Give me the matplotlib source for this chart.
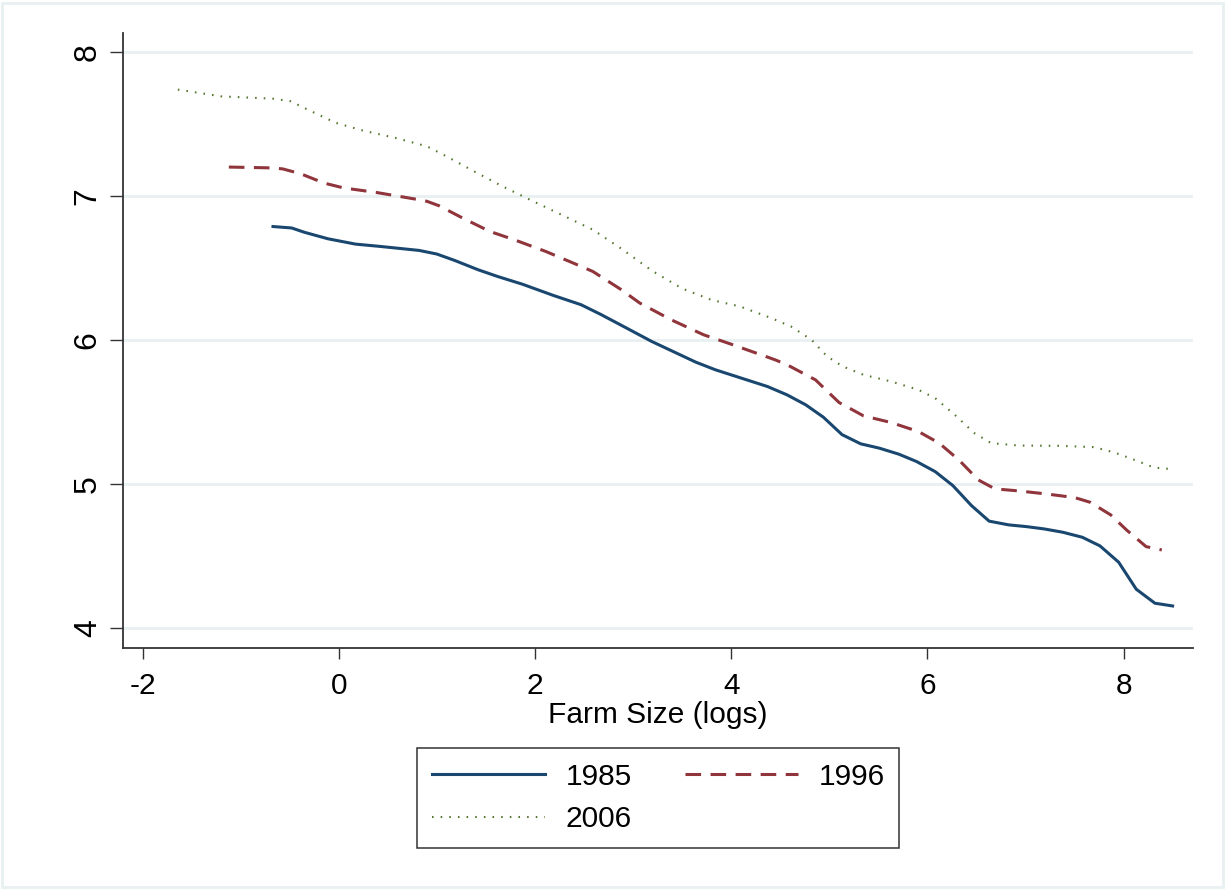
import matplotlib
matplotlib.use("Agg")
import matplotlib.pyplot as plt
from matplotlib.patches import Rectangle

plt.rcParams['font.family'] = ['Liberation Sans', 'DejaVu Sans']

# ---- data ----
x_1985 = [-0.67, -0.48, -0.35, -0.11, 0.17, 0.42, 0.82, 1.00, 1.18, 1.42, 1.62, 1.87,
          2.19, 2.47, 2.67, 2.87, 3.19, 3.64, 3.84, 4.37, 4.57, 4.76, 4.94, 5.13, 5.32,
          5.51, 5.71, 5.89, 6.08, 6.26, 6.45, 6.63, 6.83, 7.01, 7.19, 7.38, 7.58, 7.76,
          7.95, 8.13, 8.32, 8.50]
y_1985 = [6.79, 6.78, 6.75, 6.705, 6.668, 6.652, 6.624, 6.599, 6.555, 6.49, 6.443, 6.39,
          6.311, 6.247, 6.18, 6.108, 5.992, 5.848, 5.795, 5.679, 5.621, 5.552, 5.466, 5.345,
          5.281, 5.251, 5.209, 5.158, 5.088, 4.991, 4.852, 4.744, 4.718, 4.706, 4.69, 4.667,
          4.632, 4.572, 4.459, 4.271, 4.174, 4.155]

x_1996 = [-1.12, -0.67, -0.57, -0.39, -0.15, 0.05, 0.38, 0.82, 0.90, 1.02, 1.26, 1.54,
          1.79, 2.11, 2.35, 2.59, 2.87, 3.07, 3.39, 3.72, 4.00, 4.45, 4.57, 4.86, 5.10,
          5.35, 5.63, 5.91, 6.12, 6.32, 6.52, 6.69, 6.93, 7.21, 7.50, 7.66, 7.87, 8.03,
          8.23, 8.39]
y_1996 = [7.203, 7.197, 7.19, 7.157, 7.092, 7.058, 7.027, 6.976, 6.965, 6.935, 6.85, 6.756,
          6.698, 6.617, 6.548, 6.478, 6.356, 6.258, 6.142, 6.038, 5.973, 5.864, 5.83, 5.725,
          5.568, 5.475, 5.429, 5.366, 5.286, 5.17, 5.03, 4.968, 4.954, 4.933, 4.908, 4.875,
          4.787, 4.683, 4.567, 4.544]

x_2006 = [-1.64, -1.20, -0.67, -0.49, -0.31, -0.03, 0.25, 0.58, 0.90, 1.10, 1.38, 1.67,
          1.95, 2.27, 2.59, 2.87, 3.20, 3.50, 3.80, 4.09, 4.41, 4.61, 4.82, 4.98, 5.14,
          5.35, 5.63, 5.91, 6.08, 6.28, 6.48, 6.65, 6.93, 7.34, 7.70, 7.91, 8.11, 8.31,
          8.46]
y_2006 = [7.741, 7.694, 7.678, 7.66, 7.60, 7.51, 7.456, 7.405, 7.347, 7.277, 7.173, 7.069,
          6.976, 6.872, 6.768, 6.641, 6.48, 6.36, 6.28, 6.235, 6.154, 6.096, 6.003, 5.887,
          5.818, 5.76, 5.714, 5.656, 5.598, 5.482, 5.355, 5.286, 5.269, 5.267, 5.258, 5.22,
          5.17, 5.116, 5.107]

series_labels = ['1985', '1996', '2006']
x_ticks = [-2, 0, 2, 4, 6, 8]
y_ticks = [4, 5, 6, 7, 8]
x_label = 'Farm Size (logs)'

# ---- figure ----
W, H = 1225, 890
fig = plt.figure(figsize=(W / 100, H / 100), dpi=100)
fig.patch.set_facecolor('white')
fig.patches.append(Rectangle((0.002, 0.003), 0.996, 0.994, transform=fig.transFigure,
                             fill=False, edgecolor='#e8f0f2', linewidth=2.0))

ax = fig.add_axes([123 / W, 1 - 648 / H, (1193 - 123) / W, (648 - 33) / H])
ax.set_facecolor('white')

navy = '#1a476f'
maroon = '#90353b'
green = '#55752f'

l1, = ax.plot(x_1985, y_1985, color=navy, lw=2.2, solid_joinstyle='round', label=series_labels[0], zorder=3)
l2, = ax.plot(x_1996, y_1996, color=maroon, lw=2.2, dashes=(5.1, 3.1), label=series_labels[1], zorder=3)
l3, = ax.plot(x_2006, y_2006, color=green, lw=1.5, dashes=(0.75, 3.4), dash_capstyle='butt',
              label=series_labels[2], zorder=3)

ax.set_xlim(-2.199, 8.708)
ax.set_ylim(3.863, 8.134)
ax.set_xticks(x_ticks)
ax.set_xticklabels([str(v) for v in x_ticks])
ax.set_yticks(y_ticks)
ax.set_yticklabels([str(v) for v in y_ticks], rotation=90, va='center')

ax.grid(axis='y', color='#e8f0f2', linewidth=2.0, zorder=0)
ax.grid(axis='x', visible=False)
ax.set_axisbelow(True)

for s in ['top', 'right']:
    ax.spines[s].set_visible(False)
for s in ['left', 'bottom']:
    ax.spines[s].set_color('#333333')
    ax.spines[s].set_linewidth(1.3)

ax.tick_params(axis='x', length=8, width=1.0, color='#333333', labelsize=21.5, labelcolor='black', pad=9)
ax.tick_params(axis='y', length=9.5, width=1.0, color='#333333', labelsize=23, labelcolor='black', pad=5)

ax.set_xlabel(x_label, fontsize=21.5, labelpad=1)

leg = fig.legend([l1, l3, l2], [series_labels[0], series_labels[2], series_labels[1]],
                 loc='upper left', bbox_to_anchor=(417 / W, 1 - 748 / H), bbox_transform=fig.transFigure,
                 ncol=2, fontsize=21.5, frameon=True, fancybox=False, edgecolor='black',
                 handlelength=3.8, handletextpad=0.67, columnspacing=1.78, labelspacing=0.48,
                 borderpad=0.5, borderaxespad=0)
leg.get_frame().set_linewidth(1.1)

fig.savefig('out.png', dpi=100, facecolor='white')
